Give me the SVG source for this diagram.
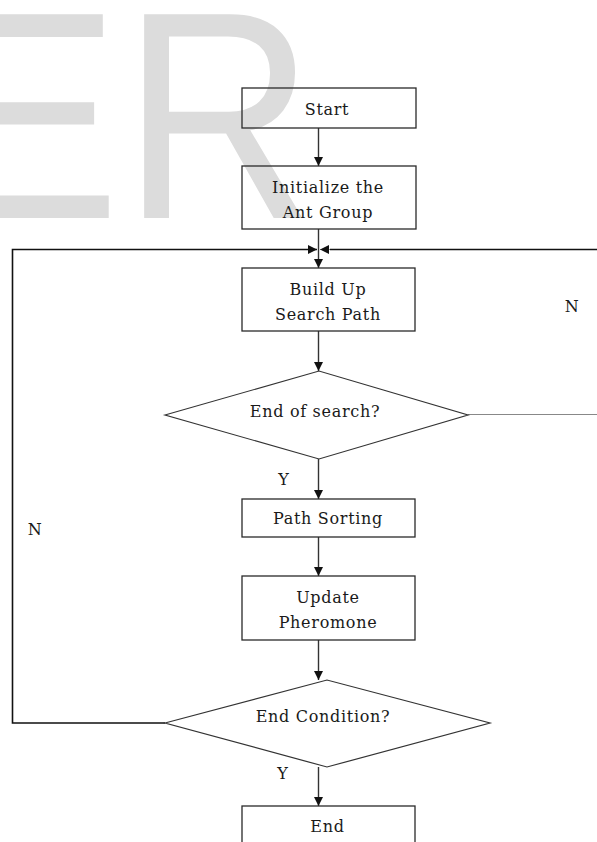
<svg xmlns="http://www.w3.org/2000/svg" width="597" height="842" viewBox="0 0 597 842">
<style>
.wm{font-family:"Liberation Sans",Arial,sans-serif;font-size:296px;fill:#dcdcdc}
.box{fill:none;stroke:#2a2a2a;stroke-width:1.3}
.dia{fill:none;stroke:#333;stroke-width:1.2}
.t{font-family:"DejaVu Serif","Liberation Serif",serif;font-size:16px;letter-spacing:0.7px;fill:#1a1a1a;text-anchor:middle}
.c{fill:none;stroke:#333;stroke-width:1.4}
.loop{fill:none;stroke:#111;stroke-width:1.6}
.thin{fill:none;stroke:#888;stroke-width:1.2}
</style>
<defs>
<marker id="ah" markerUnits="userSpaceOnUse" markerWidth="9" markerHeight="9" refX="9" refY="4.5" orient="auto">
<path d="M0,0 L9,4.5 L0,9 z" fill="#111"/>
</marker>
</defs>
<g id="watermark">
<text class="wm" x="-76" y="218">E</text>
<text class="wm" x="120" y="218" transform="translate(143,0) scale(0.9,1) translate(-143,0)">R</text>
</g>
<g id="connectors">
<line class="c" x1="318.5" y1="128" x2="318.5" y2="166" marker-end="url(#ah)"/>
<line class="c" x1="318.5" y1="229" x2="318.5" y2="268" marker-end="url(#ah)"/>
<line class="c" x1="318.5" y1="331" x2="318.5" y2="371" marker-end="url(#ah)"/>
<line class="c" x1="318.5" y1="459" x2="318.5" y2="499" marker-end="url(#ah)"/>
<line class="c" x1="318.5" y1="537" x2="318.5" y2="576" marker-end="url(#ah)"/>
<line class="c" x1="318.5" y1="640" x2="318.5" y2="680" marker-end="url(#ah)"/>
<line class="c" x1="318.5" y1="767" x2="318.5" y2="806" marker-end="url(#ah)"/>
<polyline class="loop" points="165,723 12.5,723 12.5,249.5 317,249.5" marker-end="url(#ah)"/>
<polyline class="thin" points="468,414.5 600,414.5 600,249.5 320,249.5" marker-end="url(#ah)"/>
<line class="loop" x1="597" y1="249.5" x2="330" y2="249.5"/>
<text class="t" x="572" y="312">N</text>
<text class="t" x="35" y="535">N</text>
<text class="t" x="284" y="485">Y</text>
<text class="t" x="283" y="779">Y</text>
</g>
<g id="start">
<rect class="box" x="242" y="88" width="174" height="40"/>
<text class="t" x="327" y="115">Start</text>
</g>
<g id="init">
<rect class="box" x="242" y="166" width="174" height="63"/>
<text class="t" x="328" y="192.5">Initialize the</text>
<text class="t" x="328" y="217.5">Ant Group</text>
</g>
<g id="build">
<rect class="box" x="242" y="268" width="173" height="63"/>
<text class="t" x="328" y="294.5">Build Up</text>
<text class="t" x="328" y="319.5">Search Path</text>
</g>
<g id="endsearch">
<polygon class="dia" points="165,415 319,371 468,415 319,459"/>
<text class="t" x="315" y="417">End of search?</text>
</g>
<g id="sorting">
<rect class="box" x="242" y="499" width="173" height="38"/>
<text class="t" x="328" y="524">Path Sorting</text>
</g>
<g id="update">
<rect class="box" x="242" y="576" width="173" height="64"/>
<text class="t" x="328" y="603">Update</text>
<text class="t" x="328" y="628">Pheromone</text>
</g>
<g id="endcond">
<polygon class="dia" points="165,723 327,680 490,723 327,767"/>
<text class="t" x="323" y="722">End Condition?</text>
</g>
<g id="end">
<rect class="box" x="242" y="806" width="173" height="50"/>
<text class="t" x="327.5" y="832">End</text>
</g>
</svg>
